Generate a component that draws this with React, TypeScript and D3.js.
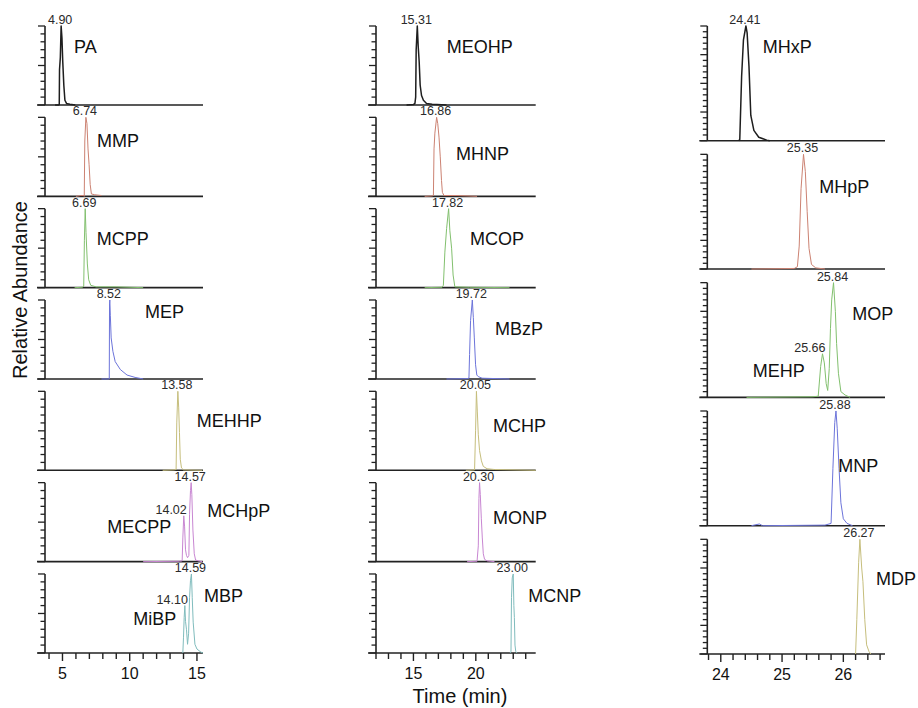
import React from 'react';
import * as d3 from 'd3';

type Pt = [number, number];

// ---------- DATA (retention time in min, relative abundance in %) ----------
// Column 1
const tracePA: Pt[] = [[4.45,0],[4.70,0],[4.76,0.5],[4.78,45],[4.84,60],[4.90,100],[4.96,85],[5.02,55],[5.10,25],[5.18,6],[5.30,2],[5.55,1],[5.95,0]];
const traceMMP: Pt[] = [[6.0,0],[6.35,1],[6.55,1],[6.62,0],[6.66,70],[6.74,100],[6.82,92],[6.90,60],[6.98,40],[7.06,15],[7.15,3],[7.4,2],[7.9,1]];
const traceMCPP: Pt[] = [[5.9,0],[6.5,0.5],[6.58,2],[6.63,60],[6.69,100],[6.75,70],[6.85,30],[6.95,10],[7.1,3],[7.5,1],[9.0,1],[11.0,0]];
const traceMEP: Pt[] = [[7.9,0],[8.45,0],[8.48,0],[8.50,95],[8.52,100],[8.56,80],[8.62,52],[8.75,35],[8.92,22],[9.3,12],[9.8,5],[10.4,2],[11.0,0]];
const traceMEHHP: Pt[] = [[12.45,0],[13.3,0.5],[13.45,1],[13.50,60],[13.58,100],[13.64,80],[13.70,48],[13.76,14],[13.85,3],[14.0,0.5],[15.4,0]];
const traceMCHpP: Pt[] = [[11.0,0],[13.7,0.5],[13.9,1],[13.95,30],[14.02,58],[14.08,45],[14.15,15],[14.22,8],[14.30,5],[14.40,8],[14.45,60],[14.52,90],[14.57,100],[14.62,85],[14.70,40],[14.80,10],[14.90,2],[15.2,0.5],[15.4,0]];
const traceMBP: Pt[] = [[13.95,0],[14.0,20],[14.05,45],[14.10,60],[14.15,40],[14.22,30],[14.30,11],[14.38,25],[14.45,70],[14.52,92],[14.59,100],[14.65,70],[14.72,39],[14.85,11],[15.0,5],[15.15,3],[15.3,1],[15.45,0]];

// Column 2
const traceMEOHP: Pt[] = [[14.45,0],[15.0,0.5],[15.12,2],[15.18,10],[15.22,70],[15.31,100],[15.38,75],[15.46,55],[15.54,25],[15.65,12],[15.8,6],[16.05,2],[16.5,1],[17.65,0]];
const traceMHNP: Pt[] = [[15.9,0],[16.5,0.5],[16.6,1],[16.65,60],[16.72,80],[16.86,100],[16.95,92],[17.05,75],[17.15,50],[17.25,20],[17.32,5],[17.45,1],[18.5,1],[20.1,0]];
const traceMCOP: Pt[] = [[15.9,0],[17.3,0.5],[17.4,3],[17.52,45],[17.66,75],[17.82,100],[17.92,72],[18.06,50],[18.18,16],[18.32,1],[19.5,0.5],[22.7,0]];
const traceMBzP: Pt[] = [[17.65,0],[19.3,0.5],[19.45,1],[19.50,31],[19.58,74],[19.72,100],[19.80,78],[19.88,52],[19.98,18],[20.08,5],[20.2,3],[20.5,1],[22.7,0]];
const traceMCHP: Pt[] = [[19.2,0],[19.9,0.5],[19.98,50],[20.05,100],[20.12,75],[20.2,45],[20.3,25],[20.45,12],[20.6,5],[20.9,2],[21.5,1],[24.8,0]];
const traceMONP: Pt[] = [[19.3,0],[20.1,0.5],[20.2,20],[20.25,80],[20.30,100],[20.36,85],[20.44,55],[20.52,30],[20.6,10],[20.7,3],[20.9,1],[21.5,0]];
const traceMCNP: Pt[] = [[22.75,0],[22.82,2],[22.86,70],[22.92,95],[23.00,100],[23.05,60],[23.09,45],[23.14,10],[23.2,2],[23.3,0]];

// Column 3
const traceMHxP: Pt[] = [[24.29,0],[24.31,1],[24.34,56],[24.37,88],[24.41,100],[24.43,94],[24.46,65],[24.49,22],[24.54,9],[24.62,3],[24.75,0.5],[24.8,0]];
const traceMHpP: Pt[] = [[24.5,0],[25.2,0.5],[25.25,2],[25.28,20],[25.31,70],[25.35,100],[25.38,85],[25.41,50],[25.44,18],[25.48,4],[25.55,1],[25.7,0]];
const traceMOP: Pt[] = [[24.42,0],[25.5,0.5],[25.59,1],[25.63,27],[25.66,38],[25.69,30],[25.72,12],[25.745,6],[25.77,25],[25.79,60],[25.81,85],[25.84,100],[25.87,75],[25.89,47],[25.92,21],[25.96,5],[26.03,2],[26.11,0]];
const traceMNP: Pt[] = [[24.5,0],[24.63,1.5],[24.68,0],[25.7,0.5],[25.8,2],[25.83,50],[25.86,90],[25.88,100],[25.90,85],[25.93,50],[25.96,20],[26.0,6],[26.06,2],[26.15,0]];
const traceMDP: Pt[] = [[26.2,0],[26.22,30],[26.25,80],[26.27,100],[26.30,75],[26.32,63],[26.35,30],[26.38,8],[26.42,2],[26.45,0]];

const col1Traces = [tracePA, traceMMP, traceMCPP, traceMEP, traceMEHHP, traceMCHpP, traceMBP];
const col2Traces = [traceMEOHP, traceMHNP, traceMCOP, traceMBzP, traceMCHP, traceMONP, traceMCNP];
const col3Traces = [traceMHxP, traceMHpP, traceMOP, traceMNP, traceMDP];

const col1Names = [['PA'], ['MMP'], ['MCPP'], ['MEP'], ['MEHHP'], ['MECPP', 'MCHpP'], ['MiBP', 'MBP']];
const col2Names = [['MEOHP'], ['MHNP'], ['MCOP'], ['MBzP'], ['MCHP'], ['MONP'], ['MCNP']];
const col3Names = [['MHxP'], ['MHpP'], ['MEHP', 'MOP'], ['MNP'], ['MDP']];

const col1PeakRT = [[4.90], [6.74], [6.69], [8.52], [13.58], [14.02, 14.57], [14.10, 14.59]];
const col2PeakRT = [[15.31], [16.86], [17.82], [19.72], [20.05], [20.30], [23.00]];
const col3PeakRT = [[24.41], [25.35], [25.66, 25.84], [25.88], [26.27]];

const col1Ticks = d3.range(4, 15.5, 1);
const col2Ticks = d3.range(12, 24.5, 1);
const col3Ticks = d3.range(0, 15, 1).map((i) => 23.8 + i * 0.2);
const col1TickLabels = [5, 10, 15];
const col2TickLabels = [15, 20];
const col3TickLabels = [24, 25, 26];

// ---------- LAYOUT / STYLE ----------
const W = 918;
const H = 708;
const FONT = '"Liberation Sans", Arial, Helvetica, sans-serif';
const rowColors = ['#1e1e1e', '#cc8272', '#82c06e', '#6c74da', '#c6be7c', '#c886d2', '#80bcbd'];
const AXIS = '#222';

type ColCfg = {
  x0: number; x1: number; domain: [number, number];
  firstBase: number; pitch: number; height: number; yStep: number;
  traces: Pt[][]; names: string[][]; peaks: number[][];
  ticks: number[]; tickLabels: number[];
  nameOffsets: [number, number][][]; // [dx from axis, dy from panel top]
};

const cols: ColCfg[] = [
  {
    x0: 45, x1: 203, domain: [3.7, 15.45], firstBase: 105, pitch: 91.33, height: 79, yStep: 10,
    traces: col1Traces, names: col1Names, peaks: col1PeakRT, ticks: col1Ticks, tickLabels: col1TickLabels,
    nameOffsets: [[[29, 27]], [[52, 29.4]], [[51.7, 36.3]], [[100, 18.3]], [[151.7, 35.4]], [[62.3, 50.6], [162.3, 34]], [[88.3, 51], [159, 27.7]]],
  },
  {
    x0: 376, x1: 535.7, domain: [12, 24.8], firstBase: 105, pitch: 91.33, height: 79, yStep: 10,
    traces: col2Traces, names: col2Names, peaks: col2PeakRT, ticks: col2Ticks, tickLabels: col2TickLabels,
    nameOffsets: [[[70.7, 27.3]], [[80, 42.7]], [[94, 36.3]], [[119, 35]], [[117, 40.7]], [[117, 41.3]], [[152.3, 27.7]]],
  },
  {
    x0: 707.3, x1: 885, domain: [23.78, 26.68], firstBase: 140.7, pitch: 128.33, height: 114.7, yStep: 5,
    traces: col3Traces, names: col3Names, peaks: col3PeakRT, ticks: col3Ticks, tickLabels: col3TickLabels,
    nameOffsets: [[[55.4, 27.3]], [[112, 39]], [[45.4, 94.6], [145, 37.3]], [[131, 61]], [[168.7, 45.7]]],
  },
];

function heightAt(trace: Pt[], rt: number): number {
  let best = trace[0];
  for (const p of trace) if (Math.abs(p[0] - rt) < Math.abs(best[0] - rt)) best = p;
  return best[1];
}

function Column({ c }: { c: ColCfg }) {
  const x = d3.scaleLinear().domain(c.domain).range([c.x0, c.x1]);
  const n = c.traces.length;
  return (
    <g>
      {c.traces.map((tr, i) => {
        const base = c.firstBase + i * c.pitch;
        const top = base - c.height;
        const y = d3.scaleLinear().domain([0, 100]).range([base, top]);
        const line = d3.line<Pt>().x((d) => x(d[0])).y((d) => y(d[1]));
        const color = rowColors[i];
        const yTicks = d3.range(0, 100 + 0.001, c.yStep);
        const isBottom = i === n - 1;
        const peakHeights = c.peaks[i].map((rt) => heightAt(tr, rt));
        const maxH = Math.max(...peakHeights);
        return (
          <g key={i}>
            {/* y axis */}
            <line x1={c.x0} x2={c.x0} y1={top} y2={base} stroke={AXIS} strokeWidth={1.6} />
            {yTicks.map((v, k) => {
              const major = Math.round(v) % 50 === 0 || (c.yStep === 5 && Math.round(v) % 25 === 0);
              return (
                <line key={k} x1={c.x0 - (major ? 7 : 4.5)} x2={c.x0} y1={y(v)} y2={y(v)} stroke={AXIS} strokeWidth={1.3} />
              );
            })}
            {/* baseline / x axis */}
            <line x1={c.x0 - 8} x2={c.x1} y1={base} y2={base} stroke={AXIS} strokeWidth={1.6} />
            {isBottom && c.ticks.map((t, k) => {
              const major = c.tickLabels.some((l) => Math.abs(l - t) < 1e-6);
              return <line key={k} x1={x(t)} x2={x(t)} y1={base} y2={base + (major ? 8 : 6)} stroke={AXIS} strokeWidth={1.4} />;
            })}
            {isBottom && c.tickLabels.map((t, k) => (
              <text key={k} x={x(t)} y={base + 26.3} textAnchor="middle" fontSize={16} fontFamily={FONT} fill="#111">{t}</text>
            ))}
            {/* trace */}
            <path d={line(tr) || ''} fill="none" stroke={color} strokeWidth={i === 0 ? 1.5 : 1.0} strokeLinejoin="round" />
            {/* peak labels */}
            {c.peaks[i].map((rt, k) => {
              const h = peakHeights[k];
              const secondary = h < maxH;
              return (
                <text key={k} x={x(rt) + (secondary ? 3 : -1)} y={y(h) - 2} textAnchor={secondary ? 'end' : 'middle'}
                  fontSize={12.5} fontFamily={FONT} fill="#2a2a2a">{rt.toFixed(2)}</text>
              );
            })}
            {/* compound names */}
            {c.names[i].map((nm, k) => (
              <text key={k} x={c.x0 + c.nameOffsets[i][k][0]} y={top + c.nameOffsets[i][k][1]} fontSize={18} fontFamily={FONT} fill="#111">{nm}</text>
            ))}
          </g>
        );
      })}
    </g>
  );
}

export default function App() {
  return (
    <svg width={W} height={H} style={{ position: 'absolute', left: 0, top: 0, background: '#fff' }}>
      <rect x={0} y={0} width={W} height={H} fill="#fff" />
      {cols.map((c, i) => <Column key={i} c={c} />)}
      <text transform="translate(27,290) rotate(-90)" textAnchor="middle" fontSize={20} fontFamily={FONT} fill="#111">Relative Abundance</text>
      <text x={460} y={703} textAnchor="middle" fontSize={20} fontFamily={FONT} fill="#111">Time (min)</text>
    </svg>
  );
}
